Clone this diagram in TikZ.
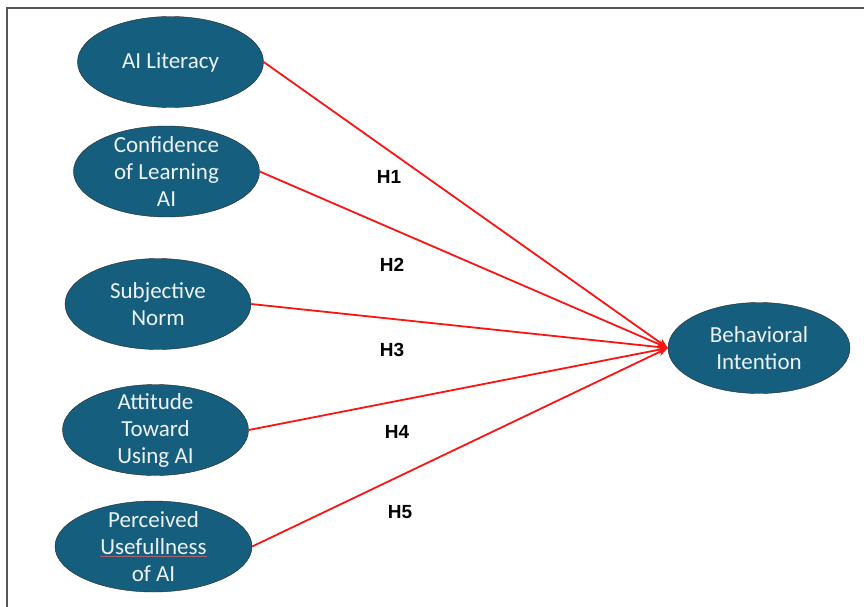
\documentclass[tikz,border=0pt]{standalone}
\usepackage{fontspec}
\setmainfont{Carlito}
\newfontfamily\hipfont{Liberation Sans}
\definecolor{ConstructTeal}{RGB}{22,94,126}
\definecolor{PathRed}{RGB}{250,20,20}
\definecolor{FrameGray}{RGB}{85,85,85}
\definecolor{SpellRose}{RGB}{165,100,115}
\usetikzlibrary{arrows.meta, shapes.geometric, positioning}

\begin{document}
\begin{tikzpicture}[x=1pt, y=-1pt,
	constructo/.style={ellipse, draw=black!85, thin, fill=ConstructTeal, text=white!92!ConstructTeal,
		align=center, inner xsep=0pt, inner ysep=-8pt, minimum width=186pt, minimum height=91pt,
		font=\fontsize{23}{27}\selectfont},
	flecha/.style={-{Stealth[length=10pt, width=8pt]}, PathRed, line width=1.8pt},
	hipotesis/.style={font=\hipfont\bfseries\fontsize{19}{22}\selectfont}]
	\useasboundingbox (0,0) rectangle (864,607);
	\draw[FrameGray, line width=1.5pt] (7,607) -- (7,8) -- (864,8);
	\node[constructo] (lit) at (170.5,62) {AI Literacy};
	\node[constructo] (conf) at (166.5,171.5) {Confidence\\of Learning\\AI};
	\node[constructo] (norm) at (158,304) {Subjective\\Norm};
	\node[constructo] (att) at (155.5,430) {Attitude\\Toward\\Using AI};
	\node[constructo, minimum width=197pt] (use) at (153.5,546.5) {Perceived\\{\color{SpellRose}\underline{\color{white!92!ConstructTeal}Usefullness}}\\of AI};
	\node[constructo, minimum width=182pt] (bi) at (759,348) {Behavioral\\Intention};
	\foreach \n in {lit, conf, norm, att, use}
		\draw[flecha] (\n.east) -- (bi.west);
	\node[hipotesis] (h1) at (389,177) {H1};
	\node[hipotesis] (h2) at (392,265) {H2};
	\node[hipotesis] (h3) at (392,350) {H3};
	\node[hipotesis] (h4) at (397,432) {H4};
	\node[hipotesis] (h5) at (400,512) {H5};
\end{tikzpicture}
\end{document}
